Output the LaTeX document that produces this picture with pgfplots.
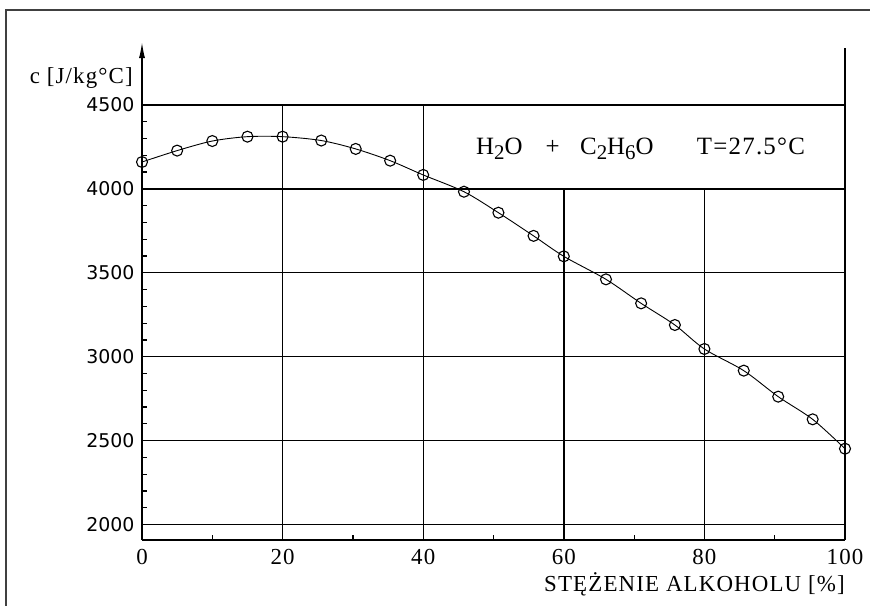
\documentclass[border=0pt]{standalone}
\usepackage{fontspec}
\setmainfont{Liberation Serif}[LetterSpace=5]
\newfontfamily\ysans{DejaVu Sans}
\usepackage{pgfplots}
\pgfplotsset{compat=1.18}
\usetikzlibrary{arrows.meta}
\newcommand\sub[1]{\raisebox{-5.5bp}{\fontsize{21}{21}\selectfont #1}}
\pgfplotstableread{
x y
0 4160
5 4228
10 4285
15 4311
20 4311
25.5 4288
30.4 4238
35.3 4168
40 4083
45.8 3983
50.7 3858
55.7 3720
60 3598
66 3461
71 3318
75.8 3189
80 3046
85.6 2917
90.5 2762
95.4 2627
100 2452
}\datatab
\begin{document}
\begin{tikzpicture}
\useasboundingbox (0bp,0bp) rectangle (870bp,-606bp);
\draw[line width=2.2bp, black!75] (6bp,-10bp) rectangle (900bp,-700bp);
\begin{axis}[
 at={(142bp,-540bp)}, anchor=south west,
 scale only axis, width=703bp, height=498bp,
 xmin=0, xmax=100, ymin=1908, ymax=4875,
 axis x line=bottom, axis y line=left,
 axis line style={line width=1.4bp},
 x axis line style={-},
 y axis line style={-{Latex[length=16bp,width=6bp]}},
 xtick={0,20,...,100}, ytick={2000,2500,...,4500},
 minor xtick={10,30,50,70,90},
 minor ytick={2100,2200,...,4400},
 tick align=inside, major tick length=0pt, minor tick length=5bp,
 every tick/.style={black, line width=1.2bp},
 xticklabel style={font=\fontsize{23}{23}\selectfont, yshift=-6bp},
 yticklabel style={font=\ysans\fontsize{19}{19}\selectfont, xshift=-4bp},
 /pgf/number format/assume math mode=true,
 /pgf/number format/1000 sep={},
 xlabel={STĘŻENIE ALKOHOLU [\%]},
 xlabel style={at={(axis description cs:1,0)}, anchor=north east, yshift=-32bp, inner sep=0pt, font=\fontsize{23}{23}\selectfont},
 ylabel={c [J/kg°C]},
 ylabel style={rotate=-90, at={(axis description cs:0,0.928)}, anchor=east, xshift=-9bp, inner sep=0pt, font=\fontsize{23}{23}\selectfont},
 clip=false,
]
\draw[line width=1.4bp] (axis cs:0,2000) -- (axis cs:100,2000);
\draw[line width=1.4bp] (axis cs:0,2500) -- (axis cs:100,2500);
\draw[line width=1.4bp] (axis cs:0,3000) -- (axis cs:100,3000);
\draw[line width=1.4bp] (axis cs:0,3500) -- (axis cs:100,3500);
\draw[line width=1.4bp] (axis cs:0,4000) -- (axis cs:100,4000);
\draw[line width=1.4bp] (axis cs:0,4500) -- (axis cs:100,4500);
\draw[line width=1.4bp] (axis cs:20,1908) -- (axis cs:20,4500);
\draw[line width=1.4bp] (axis cs:40,1908) -- (axis cs:40,4500);
\draw[line width=1.4bp] (axis cs:60,1908) -- (axis cs:60,4000);
\draw[line width=1.4bp] (axis cs:80,1908) -- (axis cs:80,4000);
\draw[line width=1.4bp] (axis cs:100,1908) -- (axis cs:100,4840);
\addplot[black, line width=0.9bp, smooth, mark=o, mark size=5.5bp, mark options={line width=1.1bp}] table {\datatab};
\node[anchor=base west, inner sep=0pt, font=\fontsize{25}{25}\selectfont] at (axis cs:47.5,4205) {H\sub{2}O};
\node[anchor=base, inner sep=0pt, font=\fontsize{25}{25}\selectfont] at (axis cs:58.4,4205) {+};
\node[anchor=base west, inner sep=0pt, font=\fontsize{25}{25}\selectfont] at (axis cs:62.3,4205) {C\sub{2}H\sub{6}O};
\node[anchor=base west, inner sep=0pt, font=\fontsize{25}{25}\selectfont] at (axis cs:78.9,4205) {T=27.5°C};
\end{axis}
\end{tikzpicture}
\end{document}
